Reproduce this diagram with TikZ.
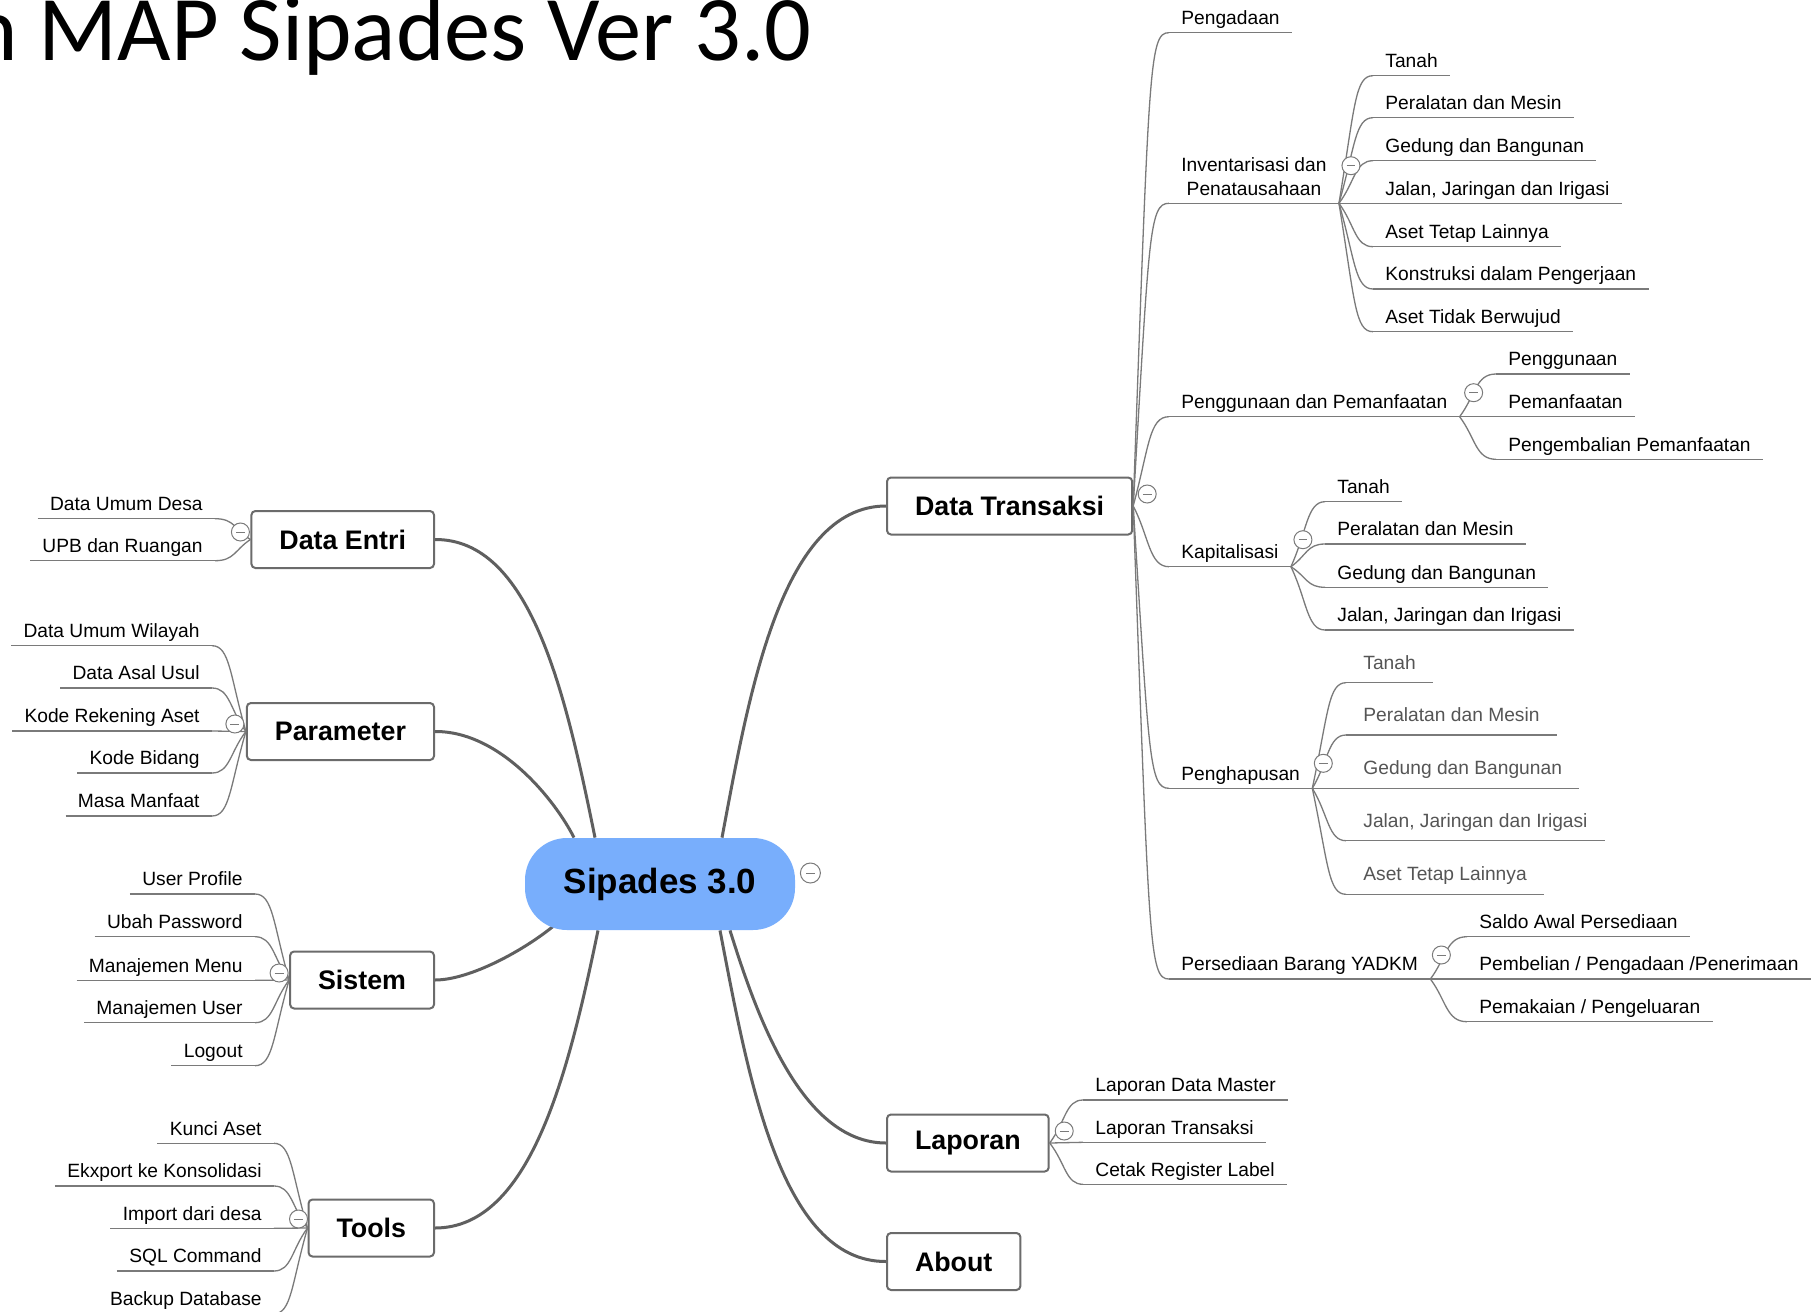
\documentclass[tikz,border=0pt]{standalone}
\usepackage{fontspec}
\setmainfont{Liberation Sans}
\newfontfamily\titlefont{Carlito}
\usetikzlibrary{calc,backgrounds}
\definecolor{rootblue}{HTML}{78AEFC}
\definecolor{boxgray}{HTML}{6B6B6B}
\definecolor{branchgray}{HTML}{5F5F5F}
\definecolor{twiggray}{HTML}{7A7A7A}
\definecolor{fadedtext}{HTML}{555555}

\tikzset{
  root/.style={fill=rootblue, rounded corners=21pt, minimum width=135pt, minimum height=46pt,
    inner sep=0pt, font=\fontsize{17.5}{21}\selectfont\bfseries},
  topic/.style={draw=boxgray, line width=1pt, rounded corners=2pt, fill=white,
    minimum height=28.5pt, inner xsep=14pt, font=\fontsize{13.4}{16}\selectfont\bfseries},
  branch/.style={draw=branchgray, line width=1.5pt},
  underline/.style={draw=twiggray, line width=0.65pt},
  leaf/.style={font=\fontsize{9.6}{11.85}\selectfont, inner xsep=6pt, inner ysep=3.85pt,
    append after command={(\tikzlastnode.south west) edge[underline] (\tikzlastnode.south east)}},
  leafR/.style={leaf, text height=6.9pt, text depth=0pt, anchor=south west},
  leafL/.style={leaf, text height=6.9pt, text depth=0pt, anchor=south east},
  leafM/.style={leaf, align=center, anchor=south west},
  faded/.style={leafR, text=fadedtext, inner xsep=8.5pt, inner ysep=6.5pt},
  twig/.style={underline, to path={let \p1=(\tikztostart), \p2=(\tikztotarget),
    \n1={ifthenelse(\x2>\x1,1,-1)*8}, \n2={min(15,abs(\y2-\y1)/2)}, \n3={ifthenelse(\y2>\y1,-1,1)}
    in .. controls (\x1+\n1,\y2+\n3*\n2) and (\x1+\n1,\y2) .. (\tikztotarget) \tikztonodes}},
  fold/.style={circle, draw=twiggray, fill=white, line width=0.5pt, minimum size=9pt, inner sep=0pt,
    path picture={\draw[twiggray, line width=0.5pt] ([xshift=-2.2pt]path picture bounding box.center)
      -- ([xshift=2.2pt]path picture bounding box.center);}}
}

\begin{document}
\begin{tikzpicture}[x=0.5pt,y=-0.5pt]
  \useasboundingbox (0,0) rectangle (1811,1312);
  \clip (0,0) rectangle (1811,1312);

  \node[anchor=base east, inner sep=0pt, font=\titlefont\fontsize{46.2}{52}\selectfont] (title) at (812,60) {n MAP Sipades Ver 3.0};

  % centre and main topics
  \node[root] (root) at (660,884) {Sipades 3.0};
  \node[topic, anchor=east] (dataentri) at (435,539.5) {Data Entri};
  \node[topic, anchor=east] (parameter) at (435,731.5) {Parameter};
  \node[topic, anchor=east] (sistem) at (435,980) {Sistem};
  \node[topic, anchor=east] (tools) at (435,1228) {Tools};
  \node[topic, anchor=west] (transaksi) at (886,506) {Data Transaksi};
  \node[topic, anchor=west] (laporan) at (886,1143) {Laporan};
  \node[topic, anchor=west] (about) at (886,1261.5) {About};

  \begin{scope}[on background layer]
    \fill[white] (0,0) rectangle (1811,1312);
    \draw[branch] ([xshift=-32.5pt]root.north) .. controls (565,690) and (530,539) .. (dataentri.east);
    \draw[branch] ([xshift=-43pt]root.north) .. controls (555,800) and (500,731) .. (parameter.east);
    \draw[branch] ([shift={(-104,40)}]root.center) .. controls (525,950) and (470,980) .. (sistem.east);
    \draw[branch] ([xshift=-31pt]root.south) .. controls (568,1075) and (530,1228) .. (tools.east);
    \draw[branch] ([xshift=31pt]root.north) .. controls (748,700) and (780,506) .. (transaksi.west);
    \draw[branch] ([xshift=35pt]root.south) .. controls (755,1010) and (800,1143) .. (laporan.west);
    \draw[branch] ([xshift=30pt]root.south) .. controls (748,1075) and (780,1262) .. (about.west);
  \end{scope}

  % Data Entri
  \node[leafL] (deUmum) at (215,518.7) {Data Umum Desa};
  \node[leafL] (deUpb) at (215,560.7) {UPB dan Ruangan};
  \path (dataentri.west) edge[twig] (deUmum.south east);
  \path (dataentri.west) edge[twig] (deUpb.south east);

  % Parameter
  \node[leafL] (prWilayah) at (212,645.7) {Data Umum Wilayah};
  \node[leafL] (prAsal) at (212,688) {Data Asal Usul};
  \node[leafL] (prRekening) at (212,731) {Kode Rekening Aset};
  \node[leafL] (prBidang) at (212,773) {Kode Bidang};
  \node[leafL] (prMasa) at (212,816) {Masa Manfaat};
  \path (parameter.west) edge[twig] (prWilayah.south east);
  \path (parameter.west) edge[twig] (prAsal.south east);
  \path (parameter.west) edge[twig] (prRekening.south east);
  \path (parameter.west) edge[twig] (prBidang.south east);
  \path (parameter.west) edge[twig] (prMasa.south east);

  % Sistem
  \node[leafL] (siProfile) at (255,894) {User Profile};
  \node[leafL] (siPassword) at (255,936.7) {Ubah Password};
  \node[leafL] (siMenu) at (255,980.3) {Manajemen Menu};
  \node[leafL] (siUser) at (255,1022.7) {Manajemen User};
  \node[leafL] (siLogout) at (255,1065.7) {Logout};
  \path (sistem.west) edge[twig] (siProfile.south east);
  \path (sistem.west) edge[twig] (siPassword.south east);
  \path (sistem.west) edge[twig] (siMenu.south east);
  \path (sistem.west) edge[twig] (siUser.south east);
  \path (sistem.west) edge[twig] (siLogout.south east);

  % Tools
  \node[leafL] (toKunci) at (274,1143.3) {Kunci Aset};
  \node[leafL] (toEkxport) at (274,1186) {Ekxport ke Konsolidasi};
  \node[leafL] (toImport) at (274,1228.3) {Import dari desa};
  \node[leafL] (toSql) at (274,1271) {SQL Command};
  \node[leafL] (toBackup) at (274,1313.7) {Backup Database};
  \path (tools.west) edge[twig] (toKunci.south east);
  \path (tools.west) edge[twig] (toEkxport.south east);
  \path (tools.west) edge[twig] (toImport.south east);
  \path (tools.west) edge[twig] (toSql.south east);
  \path (tools.west) edge[twig] (toBackup.south east);

  % Data Transaksi
  \node[leafR] (pengadaan) at (1169,32.7) {Pengadaan};
  \node[leafM] (invent) at (1169,203.3) {Inventarisasi dan\\Penatausahaan};
  \node[leafR] (guna) at (1169,416.7) {Penggunaan dan Pemanfaatan};
  \node[leafR] (kapital) at (1169,566.7) {Kapitalisasi};
  \node[leafR] (hapus) at (1169,788.3) {Penghapusan};
  \node[leafR] (sedia) at (1169,979) {Persediaan Barang YADKM};
  \path (transaksi.east) edge[twig] (pengadaan.south west);
  \path (transaksi.east) edge[twig] (invent.south west);
  \path (transaksi.east) edge[twig] (guna.south west);
  \path (transaksi.east) edge[twig] (kapital.south west);
  \path (transaksi.east) edge[twig] (hapus.south west);
  \path (transaksi.east) edge[twig] (sedia.south west);

  % Inventarisasi dan Penatausahaan
  \node[leafR] (invTanah) at (1373,75.7) {Tanah};
  \node[leafR] (invAlat) at (1373,117.7) {Peralatan dan Mesin};
  \node[leafR] (invGedung) at (1373,160.7) {Gedung dan Bangunan};
  \node[leafR] (invJalan) at (1373,203.3) {Jalan, Jaringan dan Irigasi};
  \node[leafR] (invLain) at (1373,246.7) {Aset Tetap Lainnya};
  \node[leafR] (invKonstruksi) at (1373,289) {Konstruksi dalam Pengerjaan};
  \node[leafR] (invTakBenda) at (1373,331.7) {Aset Tidak Berwujud};
  \path (invent.south east) edge[twig] (invTanah.south west);
  \path (invent.south east) edge[twig] (invAlat.south west);
  \path (invent.south east) edge[twig] (invGedung.south west);
  \path (invent.south east) edge[twig] (invJalan.south west);
  \path (invent.south east) edge[twig] (invLain.south west);
  \path (invent.south east) edge[twig] (invKonstruksi.south west);
  \path (invent.south east) edge[twig] (invTakBenda.south west);

  % Penggunaan dan Pemanfaatan
  \node[leafR] (gunaPakai) at (1496,374) {Penggunaan};
  \node[leafR] (gunaManfaat) at (1496,416.7) {Pemanfaatan};
  \node[leafR] (gunaKembali) at (1496,459.3) {Pengembalian Pemanfaatan};
  \path (guna.south east) edge[twig] (gunaPakai.south west);
  \path (guna.south east) edge[twig] (gunaManfaat.south west);
  \path (guna.south east) edge[twig] (gunaKembali.south west);

  % Kapitalisasi
  \node[leafR] (kapTanah) at (1325,501.7) {Tanah};
  \node[leafR] (kapAlat) at (1325,544) {Peralatan dan Mesin};
  \node[leafR] (kapGedung) at (1325,587.3) {Gedung dan Bangunan};
  \node[leafR] (kapJalan) at (1325,630) {Jalan, Jaringan dan Irigasi};
  \path (kapital.south east) edge[twig] (kapTanah.south west);
  \path (kapital.south east) edge[twig] (kapAlat.south west);
  \path (kapital.south east) edge[twig] (kapGedung.south west);
  \path (kapital.south east) edge[twig] (kapJalan.south west);

  % Penghapusan
  \node[faded] (hapTanah) at (1346,682.7) {Tanah};
  \node[faded] (hapAlat) at (1346,735) {Peralatan dan Mesin};
  \node[faded] (hapGedung) at (1346,788.3) {Gedung dan Bangunan};
  \node[faded] (hapJalan) at (1346,840.7) {Jalan, Jaringan dan Irigasi};
  \node[faded] (hapLain) at (1346,894.3) {Aset Tetap Lainnya};
  \path (hapus.south east) edge[twig] (hapTanah.south west);
  \path (hapus.south east) edge[twig] (hapAlat.south west);
  \path (hapus.south east) edge[twig] (hapGedung.south west);
  \path (hapus.south east) edge[twig] (hapJalan.south west);
  \path (hapus.south east) edge[twig] (hapLain.south west);

  % Persediaan Barang YADKM
  \node[leafR] (sediaSaldo) at (1467,936.7) {Saldo Awal Persediaan};
  \node[leafR] (sediaBeli) at (1467,979) {Pembelian / Pengadaan /Penerimaan};
  \node[leafR] (sediaPakai) at (1467,1021.7) {Pemakaian / Pengeluaran};
  \path (sedia.south east) edge[twig] (sediaSaldo.south west);
  \path (sedia.south east) edge[twig] (sediaBeli.south west);
  \path (sedia.south east) edge[twig] (sediaPakai.south west);

  % Laporan
  \node[leafR] (lapMaster) at (1083,1100) {Laporan Data Master};
  \node[leafR] (lapTransaksi) at (1083,1142.3) {Laporan Transaksi};
  \node[leafR] (lapCetak) at (1083,1184.3) {Cetak Register Label};
  \path (laporan.east) edge[twig] (lapMaster.south west);
  \path (laporan.east) edge[twig] (lapTransaksi.south west);
  \path (laporan.east) edge[twig] (lapCetak.south west);

  % collapse buttons
  \node[fold, minimum size=10pt] (rootFold) at ([shift={(15,-11)}]root.east) {};
  \node[fold] (dataentriFold) at ([shift={(-10,-7.5)}]dataentri.west) {};
  \node[fold] (parameterFold) at ([shift={(-11,-7.5)}]parameter.west) {};
  \node[fold] (sistemFold) at ([shift={(-10,-7)}]sistem.west) {};
  \node[fold] (toolsFold) at ([shift={(-9,-9)}]tools.west) {};
  \node[fold] (transaksiFold) at ([shift={(14,-12)}]transaksi.east) {};
  \node[fold] (laporanFold) at ([shift={(14.5,-12)}]laporan.east) {};
  \node[fold] (inventFold) at ([shift={(12,-37.6)}]invent.south east) {};
  \node[fold] (gunaFold) at ([shift={(14,-24)}]guna.south east) {};
  \node[fold] (kapitalFold) at ([shift={(12,-27)}]kapital.south east) {};
  \node[fold] (hapusFold) at ([shift={(11,-25)}]hapus.south east) {};
  \node[fold] (sediaFold) at ([shift={(11,-24)}]sedia.south east) {};
\end{tikzpicture}
\end{document}
